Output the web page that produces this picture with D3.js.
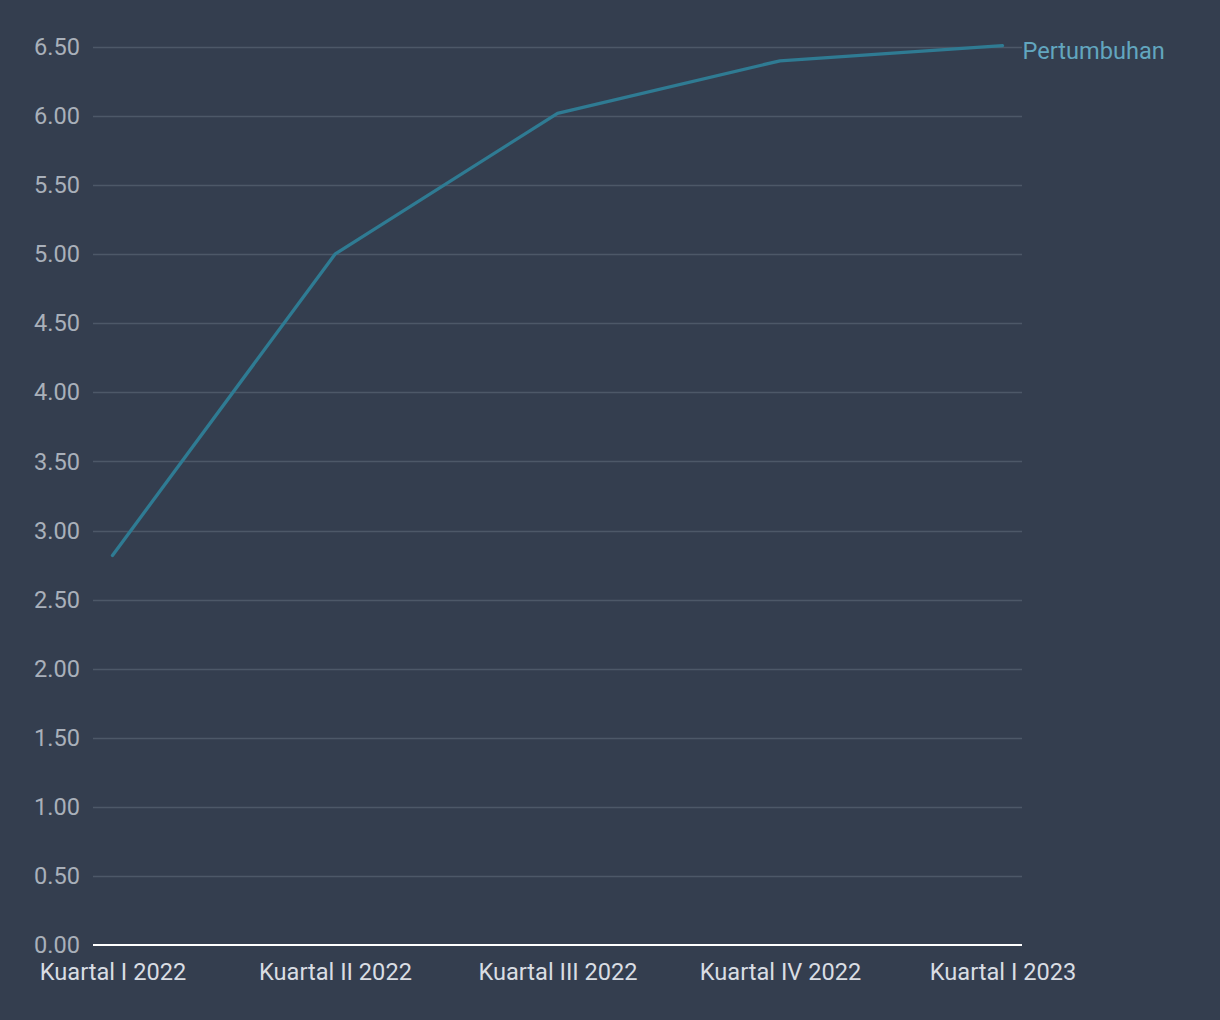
<!DOCTYPE html>
<html>
<head>
<meta charset="utf-8">
<script src="https://cdn.jsdelivr.net/npm/d3@7"></script>
<style>
html,body{margin:0;padding:0;background:#343e4f;}
svg{display:block;}
text{font-family:Roboto,"Open Sans",sans-serif;}
</style>
</head>
<body>
<svg id="chart" width="1220" height="1020"></svg>
<script>
const categories = ["Kuartal I 2022","Kuartal II 2022","Kuartal III 2022","Kuartal IV 2022","Kuartal I 2023"];
const values = [2.82, 5.00, 6.02, 6.40, 6.51];
const seriesName = "Pertumbuhan";
const yTicks = [0,0.5,1,1.5,2,2.5,3,3.5,4,4.5,5,5.5,6,6.5];

const svg = d3.select("#chart");
svg.append("rect").attr("width",1220).attr("height",1020).attr("fill","#343e4f");

const mLeft = 93, mRight = 1022, mTop = 47, mBottom = 945;
const fs = 23.6;
const x = d3.scalePoint().domain(categories).range([mLeft, mRight]).padding(0.0875);
const y = d3.scaleLinear().domain([0, 6.5]).range([mBottom, mTop]);

// gridlines
svg.append("g").selectAll("line").data(yTicks.filter(d => d > 0)).join("line")
  .attr("x1", mLeft).attr("x2", mRight)
  .attr("y1", d => Math.round(y(d)) + 0.5).attr("y2", d => Math.round(y(d)) + 0.5)
  .attr("stroke", "#4d5868").attr("stroke-width", 1.5);

// y labels
const yAxis = d3.axisLeft(y).tickValues(yTicks).tickFormat(d3.format(".2f")).tickSize(0).tickPadding(13);
const gy = svg.append("g").attr("transform", `translate(${mLeft},0)`).call(yAxis);
gy.select(".domain").remove();
gy.selectAll("text").attr("fill", "#a9b0ba").attr("font-size", fs).attr("font-family","Roboto");

// x axis
const xAxis = d3.axisBottom(x).tickSize(0).tickPadding(18);
const gx = svg.append("g").attr("transform", `translate(0,${mBottom})`).call(xAxis);
gx.select(".domain").remove();
gx.selectAll("text").attr("fill", "#d9dde3").attr("font-size", fs).attr("font-family","Roboto");
svg.append("line").attr("x1", mLeft).attr("x2", mRight).attr("y1", mBottom).attr("y2", mBottom)
  .attr("stroke", "#ffffff").attr("stroke-width", 2);

// line
const line = d3.line().x((d,i) => x(categories[i])).y(d => y(d));
svg.append("path").datum(values).attr("d", line)
  .attr("fill","none").attr("stroke","#2f7b93").attr("stroke-width",3.3)
  .attr("stroke-linecap","round").attr("stroke-linejoin","round");

// series label
svg.append("text").attr("x", x(categories[categories.length-1]) + 20)
  .attr("y", y(values[values.length-1]))
  .attr("dy","0.55em").attr("fill","#62a6bf").attr("font-size",fs)
  .text(seriesName);
</script>
</body>
</html>
